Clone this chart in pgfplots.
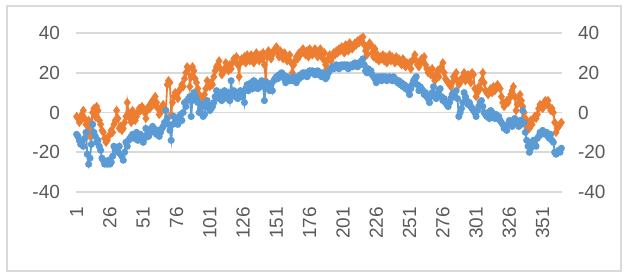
\documentclass[border=0pt]{standalone}
\usepackage{fontspec}
\setmainfont{Liberation Sans}
\usepackage{pgfplots}
\usepackage{pgfplotstable}
\pgfplotsset{compat=1.18}
\definecolor{sorange}{RGB}{237,125,49}
\definecolor{sblue}{RGB}{91,155,213}
\definecolor{tgray}{RGB}{89,89,89}
\definecolor{ggray}{RGB}{217,217,217}

\pgfplotstableread[row sep=\\, header=false]{
-2\\-3\\-5\\-4\\-1\\1\\-3\\-6\\-10\\-4\\
-12\\-5\\0\\2\\-2\\3\\1\\-4\\-6\\-9\\
-10\\-13\\-15\\-14\\-12\\-11\\-9\\-10\\-6\\-4\\
1\\-3\\-8\\-7\\-9\\-8\\-5\\-2\\5\\0\\
-3\\-5\\1\\-1\\-4\\-2\\0\\2\\1\\3\\
2\\0\\-3\\1\\3\\2\\5\\6\\4\\8\\
5\\2\\-1\\0\\3\\4\\2\\1\\14\\16\\
15\\-1\\5\\8\\10\\9\\7\\11\\12\\14\\
13\\17\\20\\23\\22\\13\\18\\23\\21\\17\\
15\\12\\9\\8\\7\\6\\9\\12\\16\\14\\
13\\15\\14\\18\\21\\23\\24\\26\\22\\19\\
20\\22\\25\\23\\21\\24\\22\\25\\27\\26\\
28\\24\\18\\25\\27\\26\\28\\25\\29\\27\\
26\\29\\28\\25\\27\\30\\28\\26\\29\\27\\
30\\24\\16\\28\\31\\30\\27\\29\\31\\32\\
33\\30\\28\\31\\29\\27\\30\\28\\26\\27\\
29\\25\\20\\24\\26\\28\\27\\30\\29\\31\\
32\\30\\29\\31\\28\\32\\31\\29\\30\\32\\
31\\28\\30\\32\\29\\27\\30\\24\\22\\27\\
29\\26\\28\\30\\29\\31\\30\\32\\31\\33\\
32\\30\\34\\33\\31\\35\\34\\32\\33\\35\\
34\\36\\35\\37\\36\\38\\34\\31\\29\\33\\
35\\34\\30\\28\\32\\27\\29\\26\\28\\27\\
29\\26\\28\\25\\27\\29\\26\\28\\27\\25\\
28\\26\\27\\25\\24\\27\\26\\23\\25\\24\\
25\\22\\26\\27\\29\\26\\24\\23\\25\\27\\
26\\28\\24\\22\\20\\21\\19\\22\\18\\16\\
19\\21\\18\\22\\23\\25\\20\\17\\16\\15\\
14\\13\\15\\18\\17\\20\\16\\14\\15\\17\\
18\\20\\16\\17\\19\\18\\15\\20\\19\\12\\
8\\10\\13\\12\\16\\20\\15\\11\\10\\9\\
11\\12\\10\\13\\11\\12\\14\\13\\12\\8\\
5\\3\\4\\6\\5\\7\\9\\11\\13\\8\\
1\\4\\7\\9\\6\\3\\0\\-3\\-7\\-5\\
-8\\-4\\-6\\-3\\-2\\-3\\-1\\2\\4\\3\\
2\\5\\6\\4\\6\\3\\1\\2\\0\\-5\\
-10\\-8\\-7\\-6\\-5\\
}\orangedata

\pgfplotstableread[row sep=\\, header=false]{
-11\\-12\\-14\\-16\\-15\\-17\\-13\\-10\\-21\\-26\\
-23\\-16\\-6\\-10\\-12\\-15\\-14\\-17\\-19\\-23\\
-24\\-26\\-25\\-26\\-24\\-26\\-25\\-22\\-17\\-19\\
-18\\-20\\-17\\-21\\-22\\-24\\-20\\-15\\-17\\-14\\
-13\\-12\\-11\\-13\\-12\\-10\\-14\\-13\\-11\\-12\\
-15\\-13\\-8\\-11\\-12\\-9\\-10\\-7\\-8\\-10\\
-11\\-9\\-12\\-10\\-8\\-7\\-5\\1\\-3\\-6\\
-9\\-14\\-6\\-2\\-5\\-3\\-6\\-4\\-1\\-4\\
0\\5\\3\\6\\7\\8\\-2\\6\\10\\8\\
7\\5\\0\\2\\4\\-2\\-1\\3\\6\\4\\
1\\2\\3\\5\\8\\11\\9\\7\\10\\6\\
8\\11\\9\\7\\10\\6\\16\\9\\11\\8\\
10\\7\\9\\11\\8\\10\\5\\12\\14\\11\\
14\\15\\12\\16\\13\\15\\12\\14\\13\\16\\
14\\6\\12\\15\\13\\11\\14\\11\\16\\17\\
18\\17\\19\\18\\20\\19\\17\\15\\18\\17\\
16\\17\\16\\18\\17\\15\\18\\17\\19\\18\\
20\\19\\20\\18\\19\\21\\20\\21\\20\\19\\
20\\21\\19\\20\\18\\20\\19\\17\\18\\20\\
21\\22\\23\\22\\23\\24\\23\\22\\23\\24\\
23\\24\\23\\24\\22\\23\\24\\23\\24\\25\\
24\\23\\25\\24\\26\\27\\24\\21\\20\\22\\
20\\21\\19\\18\\17\\15\\18\\17\\18\\16\\
18\\17\\18\\16\\17\\18\\17\\16\\18\\17\\
16\\15\\16\\14\\15\\13\\14\\12\\13\\11\\
9\\12\\14\\16\\17\\18\\14\\11\\13\\12\\
11\\9\\10\\8\\7\\5\\8\\10\\13\\9\\
7\\8\\11\\12\\8\\6\\7\\5\\4\\3\\
5\\7\\9\\10\\8\\11\\7\\-2\\0\\2\\
5\\10\\8\\6\\4\\5\\3\\2\\1\\0\\
-2\\1\\3\\5\\6\\3\\0\\-1\\-2\\0\\
-3\\1\\0\\-2\\-3\\-1\\-3\\-2\\-4\\-5\\
-6\\-8\\-7\\-9\\-6\\-4\\-5\\-7\\-4\\-3\\
-5\\-6\\-7\\-4\\-6\\1\\-5\\-10\\-14\\-17\\
-20\\-18\\-15\\-14\\-16\\-17\\-13\\-12\\-10\\-11\\
-9\\-10\\-11\\-10\\-12\\-13\\-11\\-14\\-15\\-20\\
-21\\-20\\-19\\-20\\-18\\
}\bluedata

\begin{document}
\begin{tikzpicture}
\pgfplotsset{
  common/.style={
    scale only axis, width=243pt, height=79.5pt,
    at={(0,0)}, anchor=south west,
    xmin=0.5, xmax=365.5, ymin=-40, ymax=40,
    ytick={-40,-20,0,20,40},
    major tick length=0pt,
    tick label style={font=\fontsize{9.5}{11}\selectfont, text=tgray},
    /pgf/number format/assume math mode=true,
  }
}
\begin{axis}[common,
  axis line style={draw=none},
  ymajorgrids, grid style={ggray, line width=0.9pt},
  xtick={1,26,...,351},
  x tick label style={rotate=90, anchor=east},
  xticklabel shift=4pt,
  y tick label style={xshift=-4.5pt},
  clip=false,
]
\addplot[color=sorange, line width=0.9pt, mark=diamond*, mark size=1.6pt,
  mark options={solid, fill=sorange, draw=sorange}]
  table[x expr=\coordindex+1, y index=0] {\orangedata};
\addplot[color=sblue, line width=0.9pt, mark=*, mark size=1.3pt,
  mark options={solid, fill=sblue, draw=sblue}]
  table[x expr=\coordindex+1, y index=0] {\bluedata};
\end{axis}
\begin{axis}[common,
  axis line style={draw=none},
  axis y line*=right, axis x line=none,
  y tick label style={xshift=4.5pt},
]
\addplot[draw=none] coordinates {(1,0)};
\end{axis}
\pgfresetboundingbox
\path (-38pt,-41.5pt) rectangle (275.5pt,96pt);
\draw[ggray, line width=0.6pt] (-34.5pt,-39.5pt) rectangle (272.5pt,93pt);
\end{tikzpicture}
\end{document}
